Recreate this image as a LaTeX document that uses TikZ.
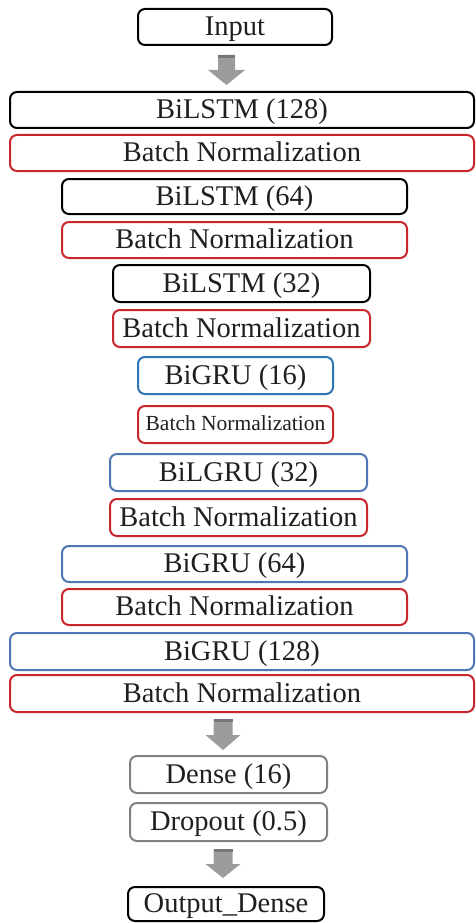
\documentclass[tikz,border=0pt]{standalone}
\usepackage{fontspec}
\setmainfont{Liberation Serif}
\begin{document}
\begin{tikzpicture}[x=1pt,y=-1pt,
  lay/.style={draw, line width=2pt, rounded corners=7pt, inner sep=0pt, anchor=center,
    font=\fontsize{28.5}{30}\selectfont, text=black!88, text height=19pt, text depth=2pt},
  blk/.style={lay, draw=black},
  bnr/.style={lay, draw=bnred},
  gru/.style={lay, draw=grublue},
  grud/.style={lay, draw=grudark},
  gry/.style={lay, draw=boxgray}]
\definecolor{bnred}{HTML}{C9262C}
\definecolor{grublue}{HTML}{4F76B4}
\definecolor{grudark}{HTML}{2E75B6}
\definecolor{boxgray}{HTML}{808080}
\definecolor{arrgray}{HTML}{9C9C9C}
\definecolor{arrdark}{HTML}{777777}
\newcommand\garrow[6]{% cx, top, headstart, tip, shafthalf, headhalf
  \fill[arrgray] (#1-#5,#2) -- (#1+#5,#2) -- (#1+#5,#3) -- (#1+#6,#3) -- (#1,#4)
     -- (#1-#6,#3) -- (#1-#5,#3) -- cycle;
  \fill[arrdark] (#1-#5,#2) rectangle (#1+#5,#2+3);}
\useasboundingbox (0,0) rectangle (476,923);

\node[blk, minimum width=194pt, minimum height=36pt] (inp) at (235,27) {Input};
\node[blk, minimum width=464pt, minimum height=36pt] (l1) at (242,110) {BiLSTM (128)};
\node[bnr, minimum width=464pt, minimum height=36pt] (bn1) at (242,153) {Batch Normalization};
\node[blk, minimum width=345pt, minimum height=35pt] (l2) at (234.5,196.5) {BiLSTM (64)};
\node[bnr, minimum width=345pt, minimum height=36pt] (bn2) at (234.5,240) {Batch Normalization};
\node[blk, minimum width=257pt, minimum height=37pt] (l3) at (241.5,283.5) {BiLSTM (32)};
\node[bnr, minimum width=257pt, minimum height=37pt] (bn3) at (241.5,328.5) {Batch Normalization\hspace{8pt}};
\node[grud, minimum width=195pt, minimum height=37pt] (g1) at (235.5,375.5) {BiGRU (16)};
\node[bnr, minimum width=195pt, minimum height=37pt, font=\fontsize{21.5}{23}\selectfont, text height=14.3pt, text depth=1.5pt] (bn4) at (235.5,424.5) {Batch Normalization};
\node[gru, minimum width=257pt, minimum height=37pt] (g2) at (238.5,472.5) {BiLGRU (32)};
\node[bnr, minimum width=257pt, minimum height=37pt] (bn5) at (238.5,517.5) {Batch Normalization\hspace{8pt}};
\node[gru, minimum width=345pt, minimum height=36pt] (g3) at (234.5,564) {BiGRU (64)};
\node[bnr, minimum width=345pt, minimum height=36pt] (bn6) at (234.5,607) {Batch Normalization};
\node[gru, minimum width=464pt, minimum height=37pt] (g4) at (242,651.5) {BiGRU (128)};
\node[bnr, minimum width=464pt, minimum height=37pt] (bn7) at (242,693.5) {Batch Normalization};
\node[gry, minimum width=197pt, minimum height=37pt] (d1) at (228.5,774.5) {Dense (16)};
\node[gry, minimum width=197pt, minimum height=38pt] (dr) at (228.5,822) {Dropout (0.5)};
\node[blk, minimum width=196pt, minimum height=34pt] (out) at (226,904) {Output\_Dense};

\garrow{226.5}{55}{70}{85}{8.5}{18.5}
\garrow{223}{719}{735}{750}{9.5}{17.5}
\garrow{223}{849}{864}{878}{9.5}{17.5}
\end{tikzpicture}
\end{document}
